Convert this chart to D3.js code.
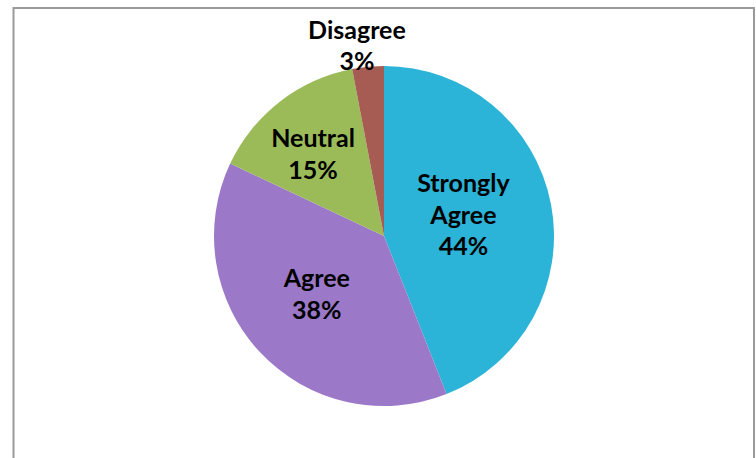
<!DOCTYPE html>
<html>
<head>
<meta charset="utf-8">
<script src="https://cdn.jsdelivr.net/npm/d3@7"></script>
<style>
  html, body { margin: 0; padding: 0; background: #fff; }
  svg { display: block; }
  .label { font-family: Lato, "Open Sans", sans-serif; font-weight: bold; fill: #000; }
</style>
</head>
<body>
<script>
const width = 756;
const height = 458;

// data
const categories = ["Strongly Agree", "Agree", "Neutral", "Disagree"];
const values = [44, 38, 15, 3];
const colors = ["#2BB4D7", "#9C79C8", "#9BBB59", "#A75C53"];

// label placement (distance from centre, angle nudge in degrees)
const labelR = [82, 89, 108, 192];
const labelShift = [-3.7, 2.3, -3.3, -2.7];

const cx = 384, cy = 236, radius = 170;
const lineH = 31.5;

const svg = d3.select("body").append("svg")
    .attr("width", width)
    .attr("height", height);

// chart frame
svg.append("rect")
    .attr("x", 13.5)
    .attr("y", 8)
    .attr("width", 740.5)
    .attr("height", 470)
    .attr("fill", "#fff")
    .attr("stroke", "#9a9a9a")
    .attr("stroke-width", 2);

const pie = d3.pie().sort(null).value(d => d.value);
const arc = d3.arc().innerRadius(0).outerRadius(radius);

const data = categories.map((c, i) => ({name: c, value: values[i], color: colors[i], i: i}));
const arcs = pie(data);

const g = svg.append("g")
    .attr("transform", "translate(" + cx + "," + cy + ")");

g.selectAll("path")
    .data(arcs)
  .join("path")
    .attr("d", arc)
    .attr("fill", d => d.data.color);

// labels
const labels = g.selectAll("text")
    .data(arcs)
  .join("text")
    .attr("class", "label")
    .attr("font-size", 25)
    .attr("text-anchor", "middle")
    .each(function(d) {
        const i = d.data.i;
        const a = (d.startAngle + d.endAngle) / 2 + labelShift[i] * Math.PI / 180;
        const x = Math.sin(a) * labelR[i];
        const y = -Math.cos(a) * labelR[i];
        const total = d3.sum(values);
        const pct = Math.round(d.data.value / total * 100) + "%";
        const lines = d.data.name === "Strongly Agree" ? ["Strongly", "Agree", pct] : [d.data.name, pct];
        const t = d3.select(this);
        // block centre -> baseline of first line
        const y0 = y - (lines.length - 1) * lineH / 2 + 8.5;
        lines.forEach((s, k) => {
            t.append("tspan")
                .attr("x", x)
                .attr("y", y0 + k * lineH)
                .text(s);
        });
    });
</script>
</body>
</html>
